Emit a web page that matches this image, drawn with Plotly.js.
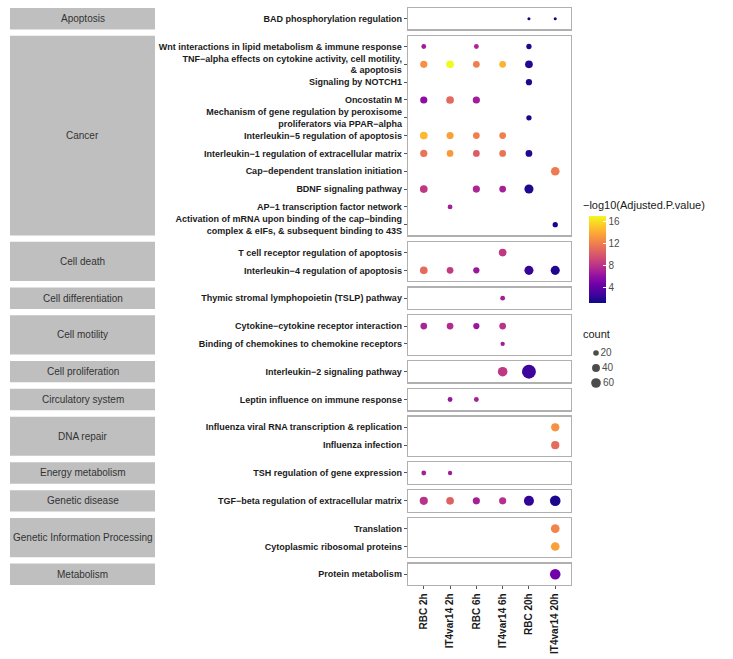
<!DOCTYPE html>
<html>
<head>
<meta charset="utf-8">
<script src="https://cdn.plot.ly/plotly-3.0.1.min.js"></script>
<style>html,body{margin:0;padding:0;background:#fff;}#chart{width:733px;height:659px;}</style>
</head>
<body>
<div id="chart"></div>
<script>
// ---------------- data ----------------
const conditions = ['RBC 2h','IT4var14 2h','RBC 6h','IT4var14 6h','RBC 20h','IT4var14 20h'];

const categories = ['Apoptosis','Cancer','Cell death','Cell differentiation','Cell motility',
  'Cell proliferation','Circulatory system','DNA repair','Energy metabolism','Genetic disease',
  'Genetic Information Processing','Metabolism'];

const pathwayCategory = [
  'Apoptosis',
  'Cancer','Cancer','Cancer','Cancer','Cancer','Cancer','Cancer','Cancer','Cancer','Cancer','Cancer',
  'Cell death','Cell death',
  'Cell differentiation',
  'Cell motility','Cell motility',
  'Cell proliferation',
  'Circulatory system',
  'DNA repair','DNA repair',
  'Energy metabolism',
  'Genetic disease',
  'Genetic Information Processing','Genetic Information Processing',
  'Metabolism'
];

const pathways = [
  'BAD phosphorylation regulation',
  'Wnt interactions in lipid metabolism & immune response',
  'TNF−alpha effects on cytokine activity, cell motility,<br>& apoptosis',
  'Signaling by NOTCH1',
  'Oncostatin M',
  'Mechanism of gene regulation by peroxisome<br>proliferators via PPAR−alpha',
  'Interleukin−5 regulation of apoptosis',
  'Interleukin−1 regulation of extracellular matrix',
  'Cap−dependent translation initiation',
  'BDNF signaling pathway',
  'AP−1 transcription factor network',
  'Activation of mRNA upon binding of the cap−binding<br>complex & eIFs, & subsequent binding to 43S',
  'T cell receptor regulation of apoptosis',
  'Interleukin−4 regulation of apoptosis',
  'Thymic stromal lymphopoietin (TSLP) pathway',
  'Cytokine−cytokine receptor interaction',
  'Binding of chemokines to chemokine receptors',
  'Interleukin−2 signaling pathway',
  'Leptin influence on immune response',
  'Influenza viral RNA transcription & replication',
  'Influenza infection',
  'TSH regulation of gene expression',
  'TGF−beta regulation of extracellular matrix',
  'Translation',
  'Cytoplasmic ribosomal proteins',
  'Protein metabolism'
];

// -log10(Adjusted.P.value), columns follow `conditions`
const logP = [
  [null, null, null, null, 1.3, 1.4],
  [6.8, null, 7.3, null, 1.8, null],
  [12.8, 16.9, 12.0, 14.3, 2.0, null],
  [null, null, null, null, 1.8, null],
  [6.0, 10.9, 6.8, null, null, null],
  [null, null, null, null, 1.6, null],
  [14.5, 13.5, 12.0, 12.0, null, null],
  [11.5, 13.2, 10.3, 11.5, 2.0, null],
  [null, null, null, null, null, 11.8],
  [8.3, null, 7.3, 7.0, 1.9, null],
  [null, 7.0, null, null, null, null],
  [null, null, null, null, null, 1.6],
  [null, null, null, 8.3, null, null],
  [11.0, 8.5, 6.5, null, 2.6, 1.9],
  [null, null, null, 7.0, null, null],
  [7.2, 7.6, 6.5, 8.0, null, null],
  [null, null, null, 6.8, null, null],
  [null, null, null, 8.3, 2.8, null],
  [null, 6.5, 7.0, null, null, null],
  [null, null, null, null, null, 12.8],
  [null, null, null, null, null, 11.0],
  [7.0, 6.8, null, null, null, null],
  [8.0, 10.5, 7.0, 7.8, 2.4, 1.7],
  [null, null, null, null, null, 12.2],
  [null, null, null, null, null, 13.5],
  [null, null, null, null, null, 4.7]
];

// gene count, columns follow `conditions`
const geneCount = [
  [null, null, null, null, 6, 6],
  [15, null, 15, null, 18, null],
  [33, 38, 29, 29, 38, null],
  [null, null, null, null, 25, null],
  [33, 38, 33, null, null, null],
  [null, null, null, null, 18, null],
  [38, 33, 29, 29, null, null],
  [33, 29, 29, 29, 29, null],
  [null, null, null, null, null, 48],
  [38, null, 33, 29, 53, null],
  [null, 15, null, null, null, null],
  [null, null, null, null, null, 18],
  [null, null, null, 38, null, null],
  [38, 29, 25, null, 53, 53],
  [null, null, null, 15, null, null],
  [29, 29, 25, 29, null, null],
  [null, null, null, 12, null, null],
  [null, null, null, 59, 124, null],
  [null, 15, 15, null, null, null],
  [null, null, null, null, null, 43],
  [null, null, null, null, null, 43],
  [15, 12, null, null, null, null],
  [43, 38, 33, 33, 65, 72],
  [null, null, null, null, null, 48],
  [null, null, null, null, null, 48],
  [null, null, null, null, null, 72]
];

const countBreaks = [20, 40, 60];
const colorTicks = [4, 8, 12, 16];

// ---------------- styling / layout ----------------
const W = 733, H = 659;
const M = {l: 408, r: 0, t: 8, b: 74};
const paperW = W - M.l - M.r, paperH = H - M.t - M.b;
const panelW = 163;
const gapPx = 6.45;
const px2x = p => (p - M.l) / paperW;
const px2y = p => 1 - (p - M.t) / paperH;
const sizeFor = c => 1.25 * Math.sqrt(c);

const plasma = [
  [0.0, '#0d0887'], [0.1, '#41049d'], [0.2, '#6a00a8'], [0.3, '#8f0da4'],
  [0.4, '#b12a90'], [0.5, '#cc4778'], [0.6, '#e16462'], [0.7, '#f2844b'],
  [0.8, '#fca636'], [0.9, '#fcce25'], [1.0, '#f0f921']
];

const FONT = 'Liberation Sans, Arial, Helvetica, sans-serif';

// facet sizes
const facetRows = categories.map(c => pathways.filter((p, i) => pathwayCategory[i] === c));
const units = facetRows.map(r => r.length + 0.2);
const totalUnits = units.reduce((a, b) => a + b, 0);
const unitPx = (paperH - gapPx * (categories.length - 1)) / totalUnits;

const traces = [];
const layout = {
  width: W, height: H,
  margin: M,
  paper_bgcolor: '#fff', plot_bgcolor: '#fff',
  showlegend: false,
  font: {family: FONT, color: '#1a1a1a'},
  coloraxis: {
    colorscale: plasma,
    colorbar: {
      x: px2x(589), xanchor: 'left', xpad: 0,
      y: px2y(216), yanchor: 'top', ypad: 0,
      len: 87, lenmode: 'pixels',
      thickness: 17, thicknessmode: 'pixels',
      outlinewidth: 0,
      tickvals: colorTicks,
      ticks: 'inside', ticklen: 3, tickcolor: '#ffffff', tickwidth: 1,
      tickfont: {family: FONT, size: 10, color: '#4d4d4d'},
      title: {text: ''}
    }
  },
  shapes: [],
  annotations: []
};

let topPx = M.t;
categories.forEach((cat, k) => {
  const idx = k + 1;
  const rows = facetRows[k];
  const n = rows.length;
  const hPx = units[k] * unitPx;
  const d1 = px2y(topPx), d0 = px2y(topPx + hPx);
  topPx += hPx + gapPx;
  const xs = [], ys = [], cs = [], ss = [];
  pathways.forEach((p, i) => {
    if (pathwayCategory[i] !== cat) return;
    conditions.forEach((cond, j) => {
      if (logP[i][j] == null) return;
      xs.push(cond); ys.push(p); cs.push(logP[i][j]); ss.push(sizeFor(geneCount[i][j]));
    });
  });
  traces.push({
    type: 'scatter', mode: 'markers',
    x: xs, y: ys,
    xaxis: 'x' + idx, yaxis: 'y' + idx,
    marker: {color: cs, coloraxis: 'coloraxis', size: ss, line: {width: 0}, opacity: 1},
    hoverinfo: 'x+y'
  });
  const last = k === categories.length - 1;
  layout['xaxis' + idx] = {
    domain: [0, panelW / paperW],
    anchor: 'y' + idx,
    type: 'category', categoryorder: 'array', categoryarray: conditions,
    range: [-0.6, conditions.length - 0.4],
    showline: true, mirror: true, linecolor: '#b0b0b0', linewidth: 1.3,
    showgrid: false, zeroline: false,
    ticks: last ? 'outside' : '', ticklen: 3, tickcolor: '#555', tickwidth: 1,
    showticklabels: last, tickangle: -90,
    tickfont: {family: FONT, size: 10, color: '#1a1a1a', weight: 'bold'}
  };
  if (idx > 1) layout['xaxis' + idx].matches = 'x';
  layout['yaxis' + idx] = {
    domain: [d0, d1],
    anchor: 'x' + idx,
    type: 'category', categoryorder: 'array', categoryarray: rows,
    range: [n - 0.4, -0.6],
    showline: true, mirror: true, linecolor: '#b0b0b0', linewidth: 1.3,
    showgrid: false, zeroline: false,
    ticks: 'outside', ticklen: 3, tickcolor: '#555', tickwidth: 1,
    tickfont: {family: FONT, size: 9, color: '#1a1a1a', weight: 'bold'}
  };
  layout.shapes.push({
    type: 'rect', xref: 'paper', yref: 'y' + idx + ' domain',
    x0: px2x(10), x1: px2x(155), y0: 0, y1: 1,
    fillcolor: '#bfbfbf', line: {width: 0}, layer: 'below'
  });
  layout.annotations.push({
    xref: 'paper', yref: 'y' + idx + ' domain',
    x: px2x(82.5), y: 0.5, xanchor: 'center', yanchor: 'middle',
    text: cat, showarrow: false,
    font: {family: FONT, size: 10, color: '#333333'}
  });
});

// colour bar title
layout.annotations.push({
  xref: 'paper', yref: 'paper', x: px2x(581), y: px2y(205),
  xanchor: 'left', yanchor: 'middle', showarrow: false,
  text: '−log10(Adjusted.P.value)',
  font: {family: FONT, size: 11, color: '#1a1a1a'}
});
// size legend title
layout.annotations.push({
  xref: 'paper', yref: 'paper', x: px2x(581), y: px2y(334),
  xanchor: 'left', yanchor: 'middle', showarrow: false,
  text: 'count',
  font: {family: FONT, size: 11, color: '#1a1a1a'}
});

// size legend as a small auxiliary subplot
const li = categories.length + 1;
layout['xaxis' + li] = {domain: [px2x(591), px2x(641)], anchor: 'y' + li, range: [-0.5, 4.5], visible: false, fixedrange: true};
layout['yaxis' + li] = {domain: [px2y(390.5), px2y(345.5)], anchor: 'x' + li, range: [70, 10], visible: false, fixedrange: true};
traces.push({
  type: 'scatter', mode: 'markers+text',
  x: countBreaks.map(() => 0), y: countBreaks,
  text: countBreaks.map(String), textposition: 'middle right',
  textfont: {family: FONT, size: 10, color: '#4d4d4d'},
  xaxis: 'x' + li, yaxis: 'y' + li,
  marker: {color: '#000', size: countBreaks.map(sizeFor), line: {width: 0}},
  hoverinfo: 'skip', cliponaxis: false
});

Plotly.newPlot('chart', traces, layout, {displayModeBar: false, staticPlot: true});
</script>
</body>
</html>
